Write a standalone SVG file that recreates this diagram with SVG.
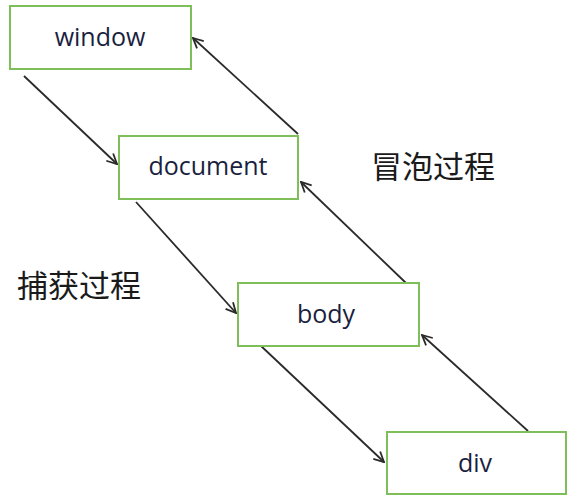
<svg xmlns="http://www.w3.org/2000/svg" width="576" height="502" viewBox="0 0 576 502">
<style>
.box{fill:#fff;stroke:#7fbf5a;stroke-width:2}
.lbl{font-family:"Open Sans","Liberation Sans",sans-serif;font-size:25px;fill:#1a1f40;text-anchor:middle}
.cn{font-family:"Noto Sans CJK SC",sans-serif;font-size:31px;fill:#1a1a1a}
.ln{stroke:#2a2a2a;stroke-width:1.8;fill:none;marker-end:url(#ah)}
</style>
<defs>
<marker id="ah" viewBox="0 0 12 12" refX="11" refY="6" markerWidth="12" markerHeight="12" markerUnits="userSpaceOnUse" orient="auto">
<path d="M1,1 L11,6 L1,11" fill="none" stroke="#2a2a2a" stroke-width="1.8"/>
</marker>
</defs>
<rect width="576" height="502" fill="#fff"/>
<g id="connectors">
<line class="ln" x1="24" y1="76" x2="117" y2="164"/>
<line class="ln" x1="298" y1="134" x2="193" y2="38"/>
<line class="ln" x1="136" y1="202" x2="236" y2="313"/>
<line class="ln" x1="406" y1="283" x2="301" y2="182"/>
<line class="ln" x1="260" y1="345" x2="384" y2="462"/>
<line class="ln" x1="528" y1="431" x2="422" y2="335"/>
</g>
<g id="window"><rect class="box" x="10" y="6" width="181" height="63"/><text class="lbl" x="100" y="46">window</text></g>
<g id="document"><rect class="box" x="119" y="136" width="179" height="63"/><text class="lbl" x="208" y="175">document</text></g>
<g id="body"><rect class="box" x="238" y="283" width="181" height="63"/><text class="lbl" x="326" y="323">body</text></g>
<g id="div"><rect class="box" x="387" y="432" width="179" height="62"/><text class="lbl" x="475" y="472">div</text></g>
<g id="labels">
<text class="cn" x="17" y="297">捕获过程</text>
<text class="cn" x="371" y="178">冒泡过程</text>
</g>
</svg>
